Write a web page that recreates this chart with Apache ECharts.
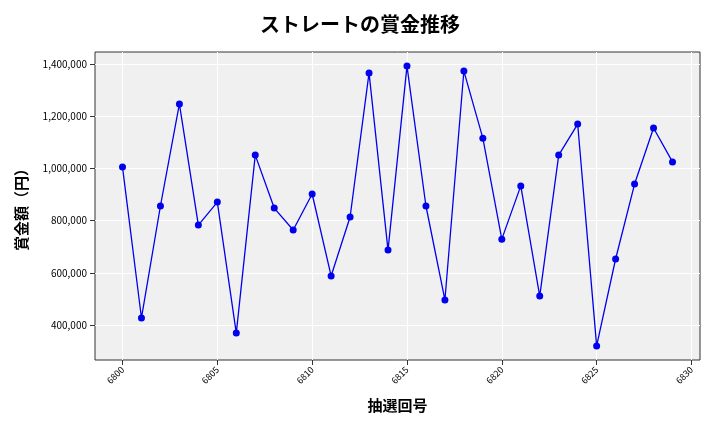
<!DOCTYPE html>
<html><head><meta charset="utf-8">
<script src="https://cdn.jsdelivr.net/npm/echarts@6/dist/echarts.min.js"></script>
<style>html,body{margin:0;padding:0;background:#fff}#c{width:720px;height:432px}</style>
</head><body><div id="c"></div>
<script>
const draws = [6800,6801,6802,6803,6804,6805,6806,6807,6808,6809,6810,6811,6812,6813,6814,6815,6816,6817,6818,6819,6820,6821,6822,6823,6824,6825,6826,6827,6828,6829];
const prizes = [1005000,427000,856000,1247000,783000,871000,369000,1051000,848000,764000,902000,588000,814000,1366000,687000,1392000,856000,496000,1373000,1116000,729000,933000,511000,1051000,1170000,320000,653000,940000,1155000,1025000];
const xTicks = [6800,6805,6810,6815,6820,6825,6830];
const yTicks = [400000,600000,800000,1000000,1200000,1400000];

const font = '"Noto Sans CJK JP", "Noto Sans", sans-serif';
const chart = echarts.init(document.getElementById('c'), null, { renderer: 'canvas' });
chart.setOption({
  animation: false,
  title: { text: 'ストレートの賞金推移', left: 'center', top: 9,
    textStyle: { fontFamily: font, fontSize: 20, fontWeight: 'bold', color: '#000' } },
  grid: { left: 95, right: 20, top: 52, bottom: 72, backgroundColor: '#f0f0f0', show: true, borderWidth: 1, borderColor: '#333' },
  xAxis: {
    type: 'value', min: 6798.55, max: 6830.45,
    name: '抽選回号', nameLocation: 'middle', nameGap: 38,
    nameTextStyle: { fontFamily: font, fontSize: 15, fontWeight: 'bold', color: '#000' },
    axisLine: { show: false },
    axisTick: { show: true, customValues: xTicks, lineStyle: { color: '#333' } },
    axisLabel: { customValues: xTicks, rotate: 45, fontSize: 9, color: '#000', fontFamily: font,
      formatter: v => String(v) },
    splitLine: { show: true, lineStyle: { color: '#fff', width: 1 } }
  },
  yAxis: {
    type: 'value', min: 266000, max: 1446000,
    name: '賞金額（円）', nameLocation: 'middle', nameGap: 66,
    nameTextStyle: { fontFamily: font, fontSize: 15, fontWeight: 'bold', color: '#000' },
    axisLine: { show: false },
    axisTick: { show: true, customValues: yTicks, lineStyle: { color: '#333' } },
    axisLabel: { customValues: yTicks, fontSize: 10, color: '#000', fontFamily: font,
      formatter: v => v.toLocaleString('en-US') },
    splitLine: { show: true, lineStyle: { color: '#fff', width: 1 } }
  },
  series: [{
    type: 'line', data: draws.map((d, i) => [d, prizes[i]]),
    symbol: 'circle', symbolSize: 7,
    lineStyle: { color: '#0000ee', width: 1.3 },
    itemStyle: { color: '#0000ee' }
  }]
});
</script></body></html>
